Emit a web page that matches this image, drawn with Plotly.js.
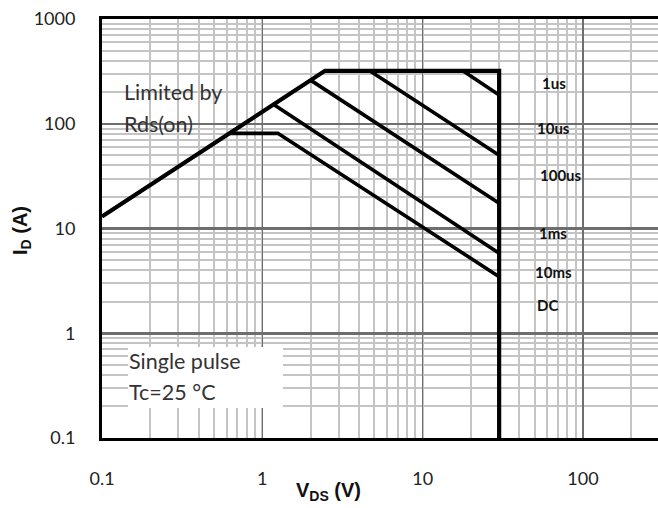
<!DOCTYPE html>
<html>
<head>
<meta charset="utf-8">
<script src="https://cdn.plot.ly/plotly-3.0.1.min.js"></script>
<style>
  html, body { margin: 0; padding: 0; background: #fff; }
  #chart { width: 658px; height: 508px; }
</style>
</head>
<body>
<div id="chart"></div>
<script>
// Safe operating area: drain current vs drain-source voltage (log-log)

// Envelope: Rds(on) limit, package current limit, max VDS
const envV = [0.1, 2.46, 30, 30];
const envI = [13, 320, 320, 0.1];

// Single-pulse boundaries
const us1V = [17.8, 30];
const us1I = [320, 188];
const us10V = [4.67, 30];
const us10I = [320, 50];
const us100V = [2.02, 30];
const us100I = [258, 17.4];
const ms1V = [1.19, 30];
const ms1I = [151, 5.8];
const ms10V = [0.625, 1.25, 30];
const ms10I = [81, 81, 3.47];

const pulseLabels = ['1us', '10us', '100us', '1ms', '10ms', 'DC'];
const noteLines = ['Limited by', 'Rds(on)', 'Single pulse', 'Tc=25 °C'];
const xTicks = [0.1, 1, 10, 100];
const xTickText = ['0.1', '1', '10', '100'];
const yTicks = [0.1, 1, 10, 100, 1000];
const yTickText = ['0.1', '1', '10', '100', '1000'];

const W = 658, H = 508;
const M = { l: 102, r: 0, t: 19, b: 70 };
const pw = W - M.l - M.r, ph = H - M.t - M.b;
// pixel -> paper helpers for the overlay text
const px = x => (x - M.l) / pw;
const py = y => (H - M.b - y) / ph;

const line = (x, y, w) => ({
  x, y, type: 'scatter', mode: 'lines',
  line: { color: '#000', width: w },
  hoverinfo: 'skip', showlegend: false
});

const traces = [
  line(envV, envI, 4.2),
  line(us1V, us1I, 3.6),
  line(us10V, us10I, 3.6),
  line(us100V, us100I, 3.6),
  line(ms1V, ms1I, 3.6),
  line(ms10V, ms10I, 3.6)
];

const labelPos = [
  [540, 83], [535, 128], [538, 175], [537, 233], [533, 272], [535, 305]
];

const annotations = pulseLabels.map((t, i) => ({
  text: t, xref: 'paper', yref: 'paper',
  x: px(labelPos[i][0]), y: py(labelPos[i][1]),
  xanchor: 'left', yanchor: 'middle', showarrow: false,
  font: { family: 'Lato', size: 15, color: '#111', weight: 'bold' }
}));

const notePos = [[122, 92], [122, 124], [127, 361], [127, 392]];
noteLines.forEach((t, i) => annotations.push({
  text: t, xref: 'paper', yref: 'paper',
  x: px(notePos[i][0]), y: py(notePos[i][1]),
  xanchor: 'left', yanchor: 'middle', showarrow: false,
  font: { family: 'Lato', size: 21.5, color: '#333' }
}));

annotations.push(
  {
    text: '<b>I<sub>D</sub> (A)</b>', xref: 'paper', yref: 'paper',
    x: px(21), y: py(231), textangle: -90, showarrow: false,
    xanchor: 'center', yanchor: 'middle',
    font: { family: 'Liberation Sans', size: 20, color: '#111' }
  },
  {
    text: '<b>V<sub>DS</sub> (V)</b>', xref: 'paper', yref: 'paper',
    x: px(328), y: py(491), showarrow: false,
    xanchor: 'center', yanchor: 'middle',
    font: { family: 'Liberation Sans', size: 20, color: '#111' }
  }
);

const shapes = [{
  type: 'rect', xref: 'paper', yref: 'paper', layer: 'above',
  x0: px(128), x1: px(283), y0: py(408), y1: py(347),
  fillcolor: '#fff', line: { width: 0 }
}];

const layout = {
  width: W, height: H, margin: M,
  paper_bgcolor: '#fff', plot_bgcolor: '#fff',
  showlegend: false,
  font: { family: 'Lato', size: 18, color: '#222' },
  xaxis: {
    type: 'log', range: [-1, 2.468], fixedrange: true,
    tickvals: xTicks, ticktext: xTickText, ticks: '',
    ticklabelstandoff: 22,
    showgrid: true, gridcolor: '#6e6e6e', gridwidth: 1.3,
    minor: { dtick: 'D1', showgrid: true, gridcolor: '#c4c4c4', gridwidth: 2 },
    showline: true, mirror: true, linecolor: '#000', linewidth: 3,
    zeroline: false
  },
  yaxis: {
    type: 'log', range: [-1, 3], fixedrange: true,
    tickvals: yTicks, ticktext: yTickText, ticks: '',
    ticklabelstandoff: 20,
    showgrid: true, gridcolor: '#6e6e6e', gridwidth: 2.5,
    minor: { dtick: 'D1', showgrid: true, gridcolor: '#c4c4c4', gridwidth: 2 },
    showline: true, mirror: false, linecolor: '#000', linewidth: 3,
    zeroline: false
  },
  annotations, shapes
};

Plotly.newPlot('chart', traces, layout, { displayModeBar: false, staticPlot: true });
</script>
</body>
</html>
